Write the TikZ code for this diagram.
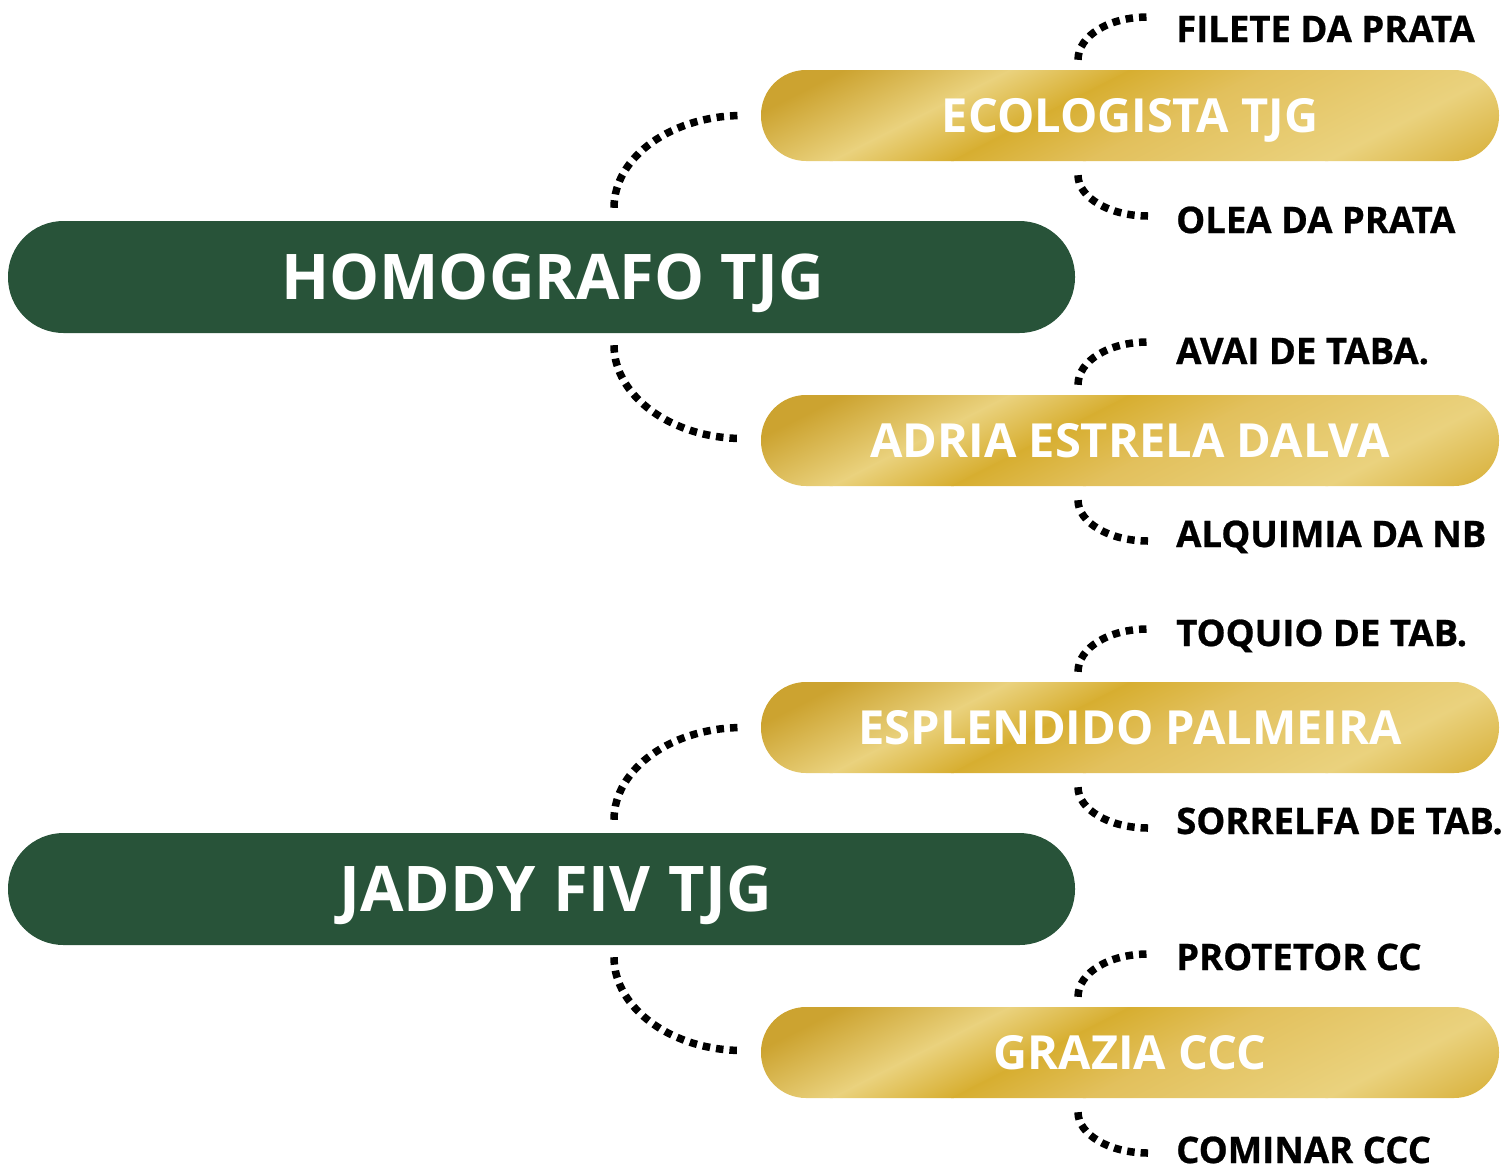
\documentclass[tikz,border=0pt]{standalone}
\usepackage{fontspec}
\setmainfont{Open Sans}
\usetikzlibrary{calc}
\definecolor{forest}{RGB}{40,83,57}
\definecolor{gA}{RGB}{204,163,48}
\definecolor{gL}{RGB}{234,210,126}
\definecolor{gD}{RGB}{215,174,48}
\definecolor{gM}{RGB}{226,192,92}
\definecolor{gE}{RGB}{218,180,66}
\tikzset{
  greenbox/.style={fill=forest, rounded corners=55.5pt, minimum width=1067pt, minimum height=112pt,
    inner sep=0pt, text=white, font=\fontsize{63}{63}\selectfont\bfseries, text height=45pt, text depth=0pt},
  goldbox/.style={rounded corners=45pt, minimum width=738pt, minimum height=91pt,
    inner sep=0pt, text=white, font=\fontsize{47}{47}\selectfont\bfseries, text height=34pt, text depth=0pt,
    path picture={
      \begin{scope}[transform canvas={rotate around={27:(path picture bounding box.center)}}]
        \foreach \va/\vb/\ca/\cb in {-270/-170/gA/gA, -170/-95/gA/gL, -95/-40/gL/gD, -40/20/gD/gM, 20/130/gM/gL, 130/195/gL/gE, 195/270/gE/gE}
          \shade[top color=\ca, bottom color=\cb]
            ($(path picture bounding box.center)+(-430,\va-0.6)$) rectangle
            ($(path picture bounding box.center)+(430,\vb+0.6)$);
      \end{scope}
    }},
  leaf/.style={anchor=base west, inner sep=0pt, font=\fontsize{36.5}{36.5}\selectfont\bfseries\addfontfeatures{FakeBold=0.7}},
  dots/.style={line width=7.5pt, dash pattern=on 7.5pt off 6pt}
}
\begin{document}
\begin{tikzpicture}[x=1pt, y=-1pt]
\useasboundingbox (0,0) rectangle (1511,1173);

% main boxes
\node[greenbox] (h1) at (541.5,277) {\hspace*{22pt}HOMOGRAFO TJG};
\node[greenbox] (h2) at (541.5,889) {\hspace*{28pt}JADDY\hspace{2pt} FIV\hspace{2pt} TJG};

\node[goldbox] (g1) at (1130,115.5) {ECOLOGISTA TJG};
\node[goldbox] (g2) at (1130,440.5) {ADRIA ESTRELA DALVA};
\node[goldbox] (g3) at (1130,727.5) {ESPLENDIDO PALMEIRA};
\node[goldbox] (g4) at (1130,1052.5) {GRAZIA CCC};

% leaves
\node[leaf] (l1) at (1176,42) {FILETE DA PRATA};
\node[leaf] (l2) at (1176,233) {OLEA DA PRATA};
\node[leaf] (l3) at (1176,364) {AVAI DE TABA.};
\node[leaf] (l4) at (1176,547) {ALQUIMIA DA NB};
\node[leaf] (l5) at (1176,646) {TOQUIO DE TAB.};
\node[leaf] (l6) at (1176,834) {SORRELFA DE TAB.};
\node[leaf] (l7) at (1176,970) {PROTETOR CC};
\node[leaf] (l8) at (1176,1163) {COMINAR CCC};

% main connectors
\foreach \h/\gt/\gb in {h1/g1/g2, h2/g3/g4} {
  \draw[dots] ($(\h.north)+(72.5,-13)$) .. controls +(0,-51) and +(-71,0) .. ($(\gt.west)+(-18,0)$);
  \draw[dots] ($(\h.south)+(72.5,12)$) .. controls +(0,51) and +(-71,0) .. ($(\gb.west)+(-18,-2)$);
}

% leaf connectors
\foreach \g/\lt/\lb in {g1/l1/l2, g2/l3/l4, g3/l5/l6, g4/l7/l8} {
  \draw[dots] ($(\g.north)+(-52,-10)$) .. controls +(0,-24) and +(-39,0) .. ($(\g.center)+(18,-98.5)$);
  \draw[dots] ($(\g.south)+(-52,14)$) .. controls +(0,22) and +(-39,0) .. ($(\g.center)+(18,100.5)$);
}
\end{tikzpicture}
\end{document}
